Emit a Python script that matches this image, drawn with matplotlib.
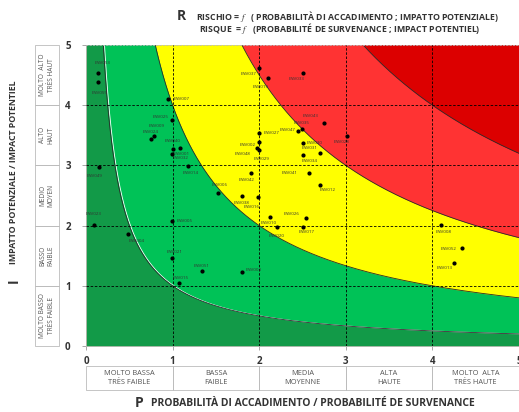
import numpy as np
import matplotlib
matplotlib.use('Agg')
import matplotlib.pyplot as plt
from matplotlib.patches import Rectangle
import matplotlib.transforms as mtransforms

plt.rcParams['font.family'] = ['Open Sans', 'DejaVu Sans']
plt.rcParams['mathtext.fontset'] = 'stix'

# ---------------- data ----------------
codes = ["ENV053", "ENV055", "ENV007", "ENV025", "ENV009", "ENV024", "ENV040", "ENV001",
         "ENV032", "ENV014", "ENV049", "ENV023", "ENV004", "ENV005", "ENV021", "ENV051",
         "ENV015", "ENV003", "ENV006", "ENV038", "ENV016", "ENV026", "ENV010", "ENV020",
         "ENV017", "ENV012", "ENV041", "ENV042", "ENV037", "ENV019", "ENV033", "ENV043",
         "ENV035", "ENV047", "ENV027", "ENV028", "ENV002", "ENV030", "ENV031", "ENV048",
         "ENV029", "ENV034", "ENV008", "ENV052", "ENV013"]
prob = [0.14, 0.14, 0.95, 0.99, 0.79, 0.75, 1.00, 0.99,
        1.09, 1.18, 0.15, 0.09, 0.49, 0.99, 0.99, 1.34,
        1.07, 1.80, 1.52, 1.80, 1.99, 2.54, 2.13, 2.21,
        2.51, 2.70, 2.58, 1.91, 2.00, 2.10, 2.50, 2.75,
        2.49, 2.45, 2.00, 3.01, 2.00, 2.50, 2.70, 1.98,
        2.00, 2.50, 4.10, 4.34, 4.25]
impact = [4.54, 4.39, 4.10, 3.75, 3.49, 3.44, 3.28, 3.19,
          3.29, 2.99, 2.97, 2.01, 1.86, 2.08, 1.46, 1.25,
          1.05, 1.23, 2.54, 2.49, 2.48, 2.13, 2.14, 1.98,
          1.98, 2.67, 2.88, 2.88, 4.62, 4.46, 4.54, 3.70,
          3.60, 3.57, 3.54, 3.49, 3.39, 3.37, 3.21, 3.29,
          3.25, 3.18, 2.01, 1.62, 1.38]
risk_thresholds = [1, 4, 9, 16]
prob_classes = ["MOLTO BASSA\nTRÈS FAIBLE", "BASSA\nFAIBLE", "MEDIA\nMOYENNE",
                "ALTA\nHAUTE", "MOLTO  ALTA\nTRÈS HAUTE"]
impact_classes = ["MOLTO BASSO\nTRÈS FAIBLE", "BASSO\nFAIBLE", "MEDIO\nMOYEN",
                  "ALTO\nHAUT", "MOLTO  ALTO\nTRÈS HAUT"]
tick_values = [0, 1, 2, 3, 4, 5]

# ---------------- style ----------------
zone_colors = ['#129a48', '#00c257', '#ffff00', '#ff3333', '#dc0000']
label_offsets = [(4, 10), (1, -11), (13, 0), (-11, 3), (2, 10), (0, 7), (0, 8), (10, 0),
                 (0, -10), (2, -7), (-4, -9), (0, 11), (8, -7), (13, 0), (3, 6), (0, 5),
                 (2, 5), (12, 2), (2, 8), (0, -7), (-7, -10), (-14, 4), (-2, -6), (-1, -9),
                 (3, -5), (8, -5), (-20, 0), (-5, -7), (-11, -6), (-7, -9), (-6, -6), (-14, 7),
                 (0, 6), (-11, 1), (12, 0), (-5, -6), (-12, -3), (12, 0), (-10, 5), (-15, -6),
                 (2, -9), (7, -6), (3, -7), (-13, -1), (-9, -5)]

fig = plt.figure(figsize=(5.19, 4.12), dpi=100)
ax = fig.add_axes([86/519, 66/412, 433/519, 301/412])

xs = np.linspace(0.001, 5, 3000)
ax.set_facecolor(zone_colors[-1])
for c, col in zip(reversed(risk_thresholds), reversed(zone_colors[:-1])):
    ax.fill_between(xs, 0, np.minimum(c / xs, 5.5), color=col, lw=0, zorder=1)
for c in risk_thresholds:
    if c == 1:
        shift = mtransforms.ScaledTranslation(1.2/100, 0, fig.dpi_scale_trans)
        ax.plot(xs, c / xs, color='white', lw=0.6, zorder=2, transform=ax.transData + shift)
    ax.plot(xs, c / xs, color='#2a2a2a', lw=0.6, zorder=2)

for v in tick_values[1:-1]:
    ax.axvline(v, color='black', lw=0.6, ls=(0, (3, 2)), zorder=3)
    ax.axhline(v, color='black', lw=0.6, ls=(0, (3, 2)), zorder=3)

ax.plot(prob, impact, 'o', ms=2, color='black', zorder=5)
for code, x, y, (dx, dy) in zip(codes, prob, impact, label_offsets):
    ax.annotate(code, (x, y), xytext=(dx, dy), textcoords='offset pixels',
                fontsize=3.2, ha='center', va='center', color='#333333', zorder=6)

ax.set_xlim(0, 5)
ax.set_ylim(0, 5)
ax.set_xticks(tick_values)
ax.set_yticks(tick_values)
ax.tick_params(axis='both', length=3, width=0.6, color='#999999', labelsize=7,
               labelcolor='#333333')
ax.tick_params(axis='x', pad=4)
ax.tick_params(axis='y', pad=8)
for lab in ax.get_xticklabels() + ax.get_yticklabels():
    lab.set_fontweight('bold')
for s in ax.spines.values():
    s.set_color('#bbbbbb')
    s.set_linewidth(0.6)
ax.spines['top'].set_linestyle((0, (2, 2)))

# category boxes below the x axis
tb = mtransforms.blended_transform_factory(ax.transData, ax.transAxes)
y0, y1 = (346 - 390) / 301, (346 - 366) / 301
for i, lab in enumerate(prob_classes):
    ax.add_patch(Rectangle((tick_values[i], y0), 1, y1 - y0, transform=tb, clip_on=False,
                           fill=False, ec='#bbbbbb', lw=0.6))
    ax.text(tick_values[i] + 0.5, (y0 + y1) / 2, lab, transform=tb, ha='center',
            va='center', fontsize=5.3, color='#555555', linespacing=1.3)

# category boxes left of the y axis
tl = mtransforms.blended_transform_factory(ax.transAxes, ax.transData)
x0, x1 = -0.118, -0.062
for i, lab in enumerate(impact_classes):
    ax.add_patch(Rectangle((x0, tick_values[i]), x1 - x0, 1, transform=tl, clip_on=False,
                           fill=False, ec='#bbbbbb', lw=0.6))
    ax.text((x0 + x1) / 2, tick_values[i] + 0.5, lab, transform=tl, ha='center',
            va='center', fontsize=4.7, color='#555555', rotation=90, linespacing=1.3)

# axis titles
fig.text(14/519, 1 - 281/412, "I", fontsize=10, fontweight='bold', color='#333333',
         rotation=90, ha='center', va='center')
fig.text(14/519, 1 - 172/412, "IMPATTO POTENZIALE / IMPACT POTENTIEL", fontsize=6.3,
         fontweight='bold', color='#333333', rotation=90, ha='center', va='center')
fig.text(139/519, 1 - 403/412, "P", fontsize=10, fontweight='bold', color='#333333',
         ha='center', va='center')
fig.text(151/519, 1 - 403/412, "PROBABILITÀ DI ACCADIMENTO / PROBABILITÉ DE SURVENANCE",
         fontsize=7.5, fontweight='bold', color='#333333', ha='left', va='center')

# title
fig.text(181/519, 1 - 16/412, "R", fontsize=10, fontweight='bold', color='#333333',
         ha='center', va='center')
fig.text(196/519, 1 - 16/412,
         r"RISCHIO = $\mathit{f}$   ( PROBABILITÀ DI ACCADIMENTO ; IMPATTO POTENZIALE)",
         fontsize=6.3, fontweight='bold', color='#333333', ha='left', va='center')
fig.text(199/519, 1 - 29/412,
         r"RISQUE  = $\mathit{f}$   (PROBABILITÉ DE SURVENANCE ; IMPACT POTENTIEL)",
         fontsize=6.3, fontweight='bold', color='#333333', ha='left', va='center')

fig.savefig('out.png', dpi=100)
